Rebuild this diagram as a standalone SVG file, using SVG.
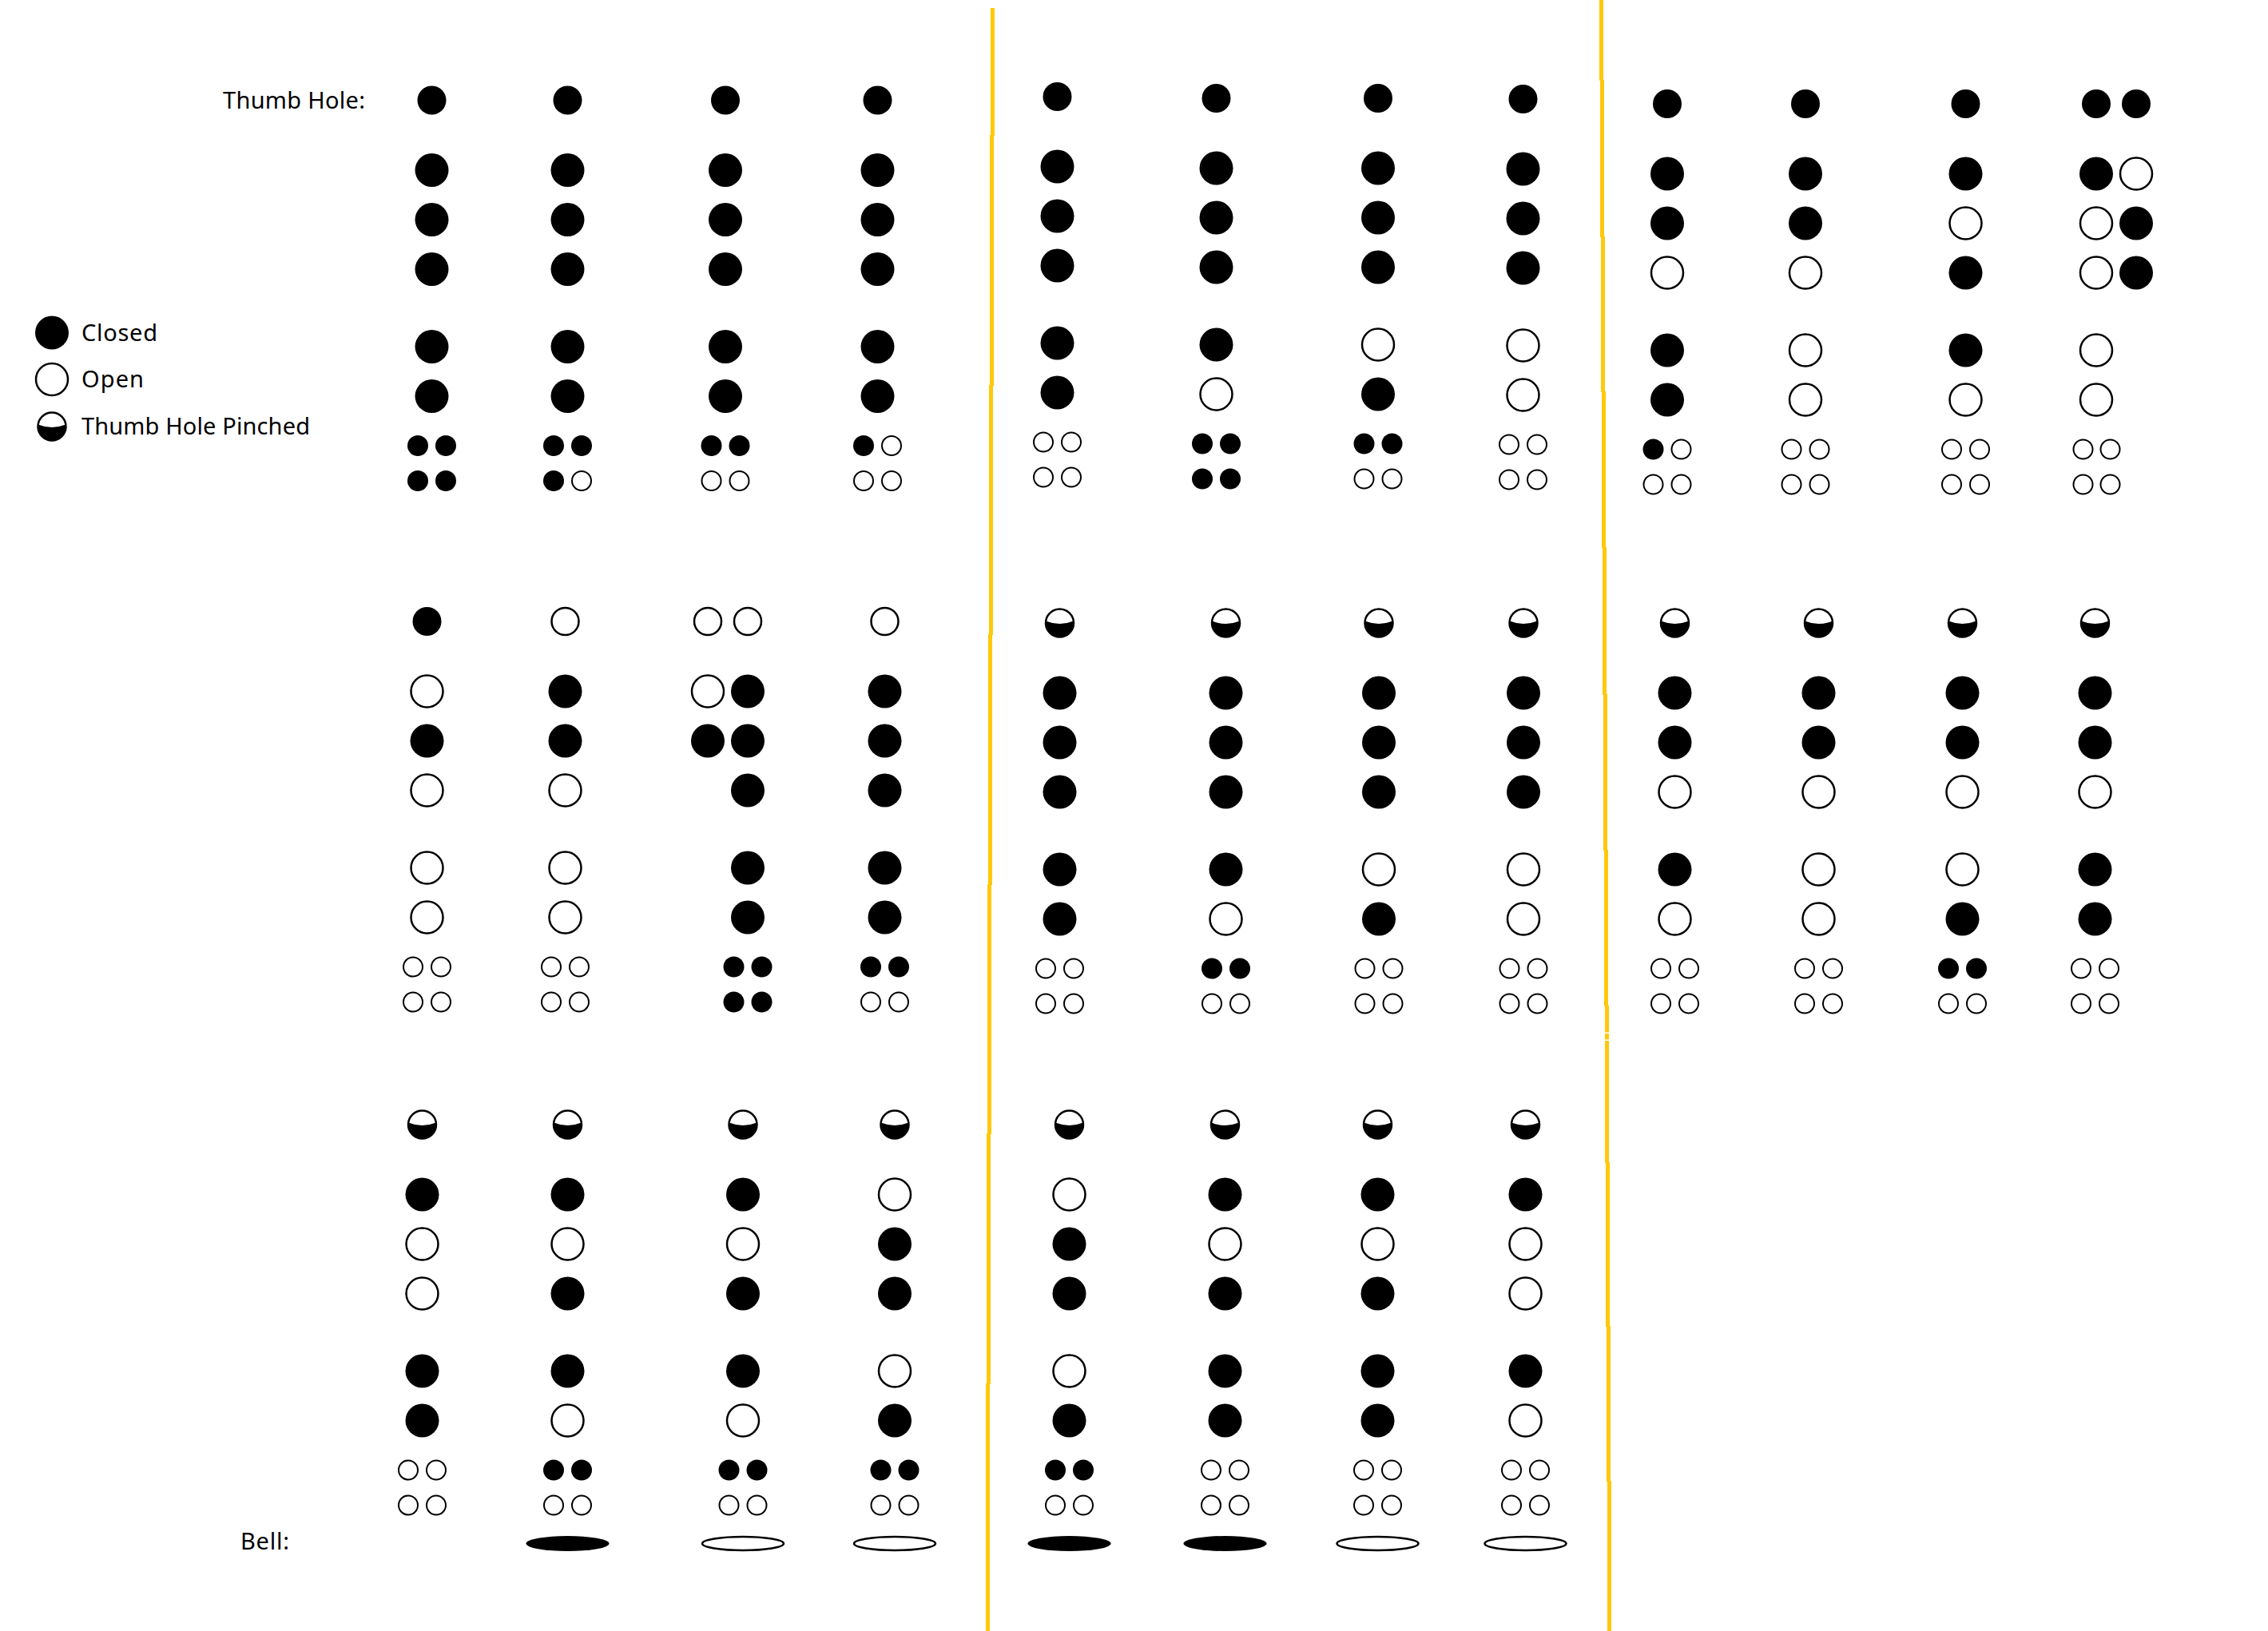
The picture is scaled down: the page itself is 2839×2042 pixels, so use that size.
<svg xmlns="http://www.w3.org/2000/svg" xmlns:xlink="http://www.w3.org/1999/xlink" width="2839" height="2042" viewBox="0 0 2839 2042">
<style>
.k{fill:#000}
.w{fill:#fff;stroke:#000;stroke-width:2.5}
.ws{fill:#fff;stroke:#000;stroke-width:2}
.y{fill:#FFC80A}
.t{font-family:"Noto Sans","Lato",sans-serif;font-size:29px;fill:#000}
</style>
<defs>
<circle id="C" r="21" class="k"/>
<circle id="O" r="20" class="w"/>
<circle id="TC" r="18" class="k"/>
<circle id="TO" r="17" class="w"/>
<g id="P"><circle r="17.5" class="w"/><path d="M-17.3 -2.5 Q0 4.5 17.3 -2.5 A17.5 17.5 0 1 1 -17.3 -2.5Z" class="k"/></g>
<circle id="SC" r="13" class="k"/>
<circle id="SO" r="12" class="ws"/>
<ellipse id="BC" rx="52" ry="9.5" class="k"/>
<ellipse id="BO" rx="51" ry="8.5" class="w"/>
</defs>
<rect width="2839" height="2042" fill="#fff"/>

<g id="dividers">
<rect class="y" x="1240" y="10" width="5" height="160"/>
<rect class="y" x="1239" y="169" width="5" height="314"/>
<rect class="y" x="1238" y="482" width="5" height="313"/>
<rect class="y" x="1237" y="794" width="5" height="314"/>
<rect class="y" x="1236" y="1107" width="5" height="313"/>
<rect class="y" x="1235" y="1419" width="5" height="314"/>
<rect class="y" x="1234" y="1732" width="5" height="310"/>
<rect class="y" x="2002" y="0" width="5" height="101"/>
<rect class="y" x="2003" y="100" width="5" height="197"/>
<rect class="y" x="2004" y="296" width="5" height="195"/>
<rect class="y" x="2005" y="490" width="5" height="196"/>
<rect class="y" x="2006" y="685" width="5" height="185"/>
<rect class="y" x="2007" y="869" width="5" height="196"/>
<rect class="y" x="2008" y="1064" width="5" height="196"/>
<rect class="y" x="2009" y="1259" width="5" height="197"/>
<rect x="2008" y="1292.5" width="7" height="1.5" fill="#fff"/>
<rect x="2008" y="1301.5" width="7" height="1.5" fill="#fff"/>
<rect class="y" x="2010" y="1455" width="5" height="206"/>
<rect class="y" x="2011" y="1660" width="5" height="195"/>
<rect class="y" x="2012" y="1854" width="5" height="188"/>
</g>

<g id="legend">
<use href="#C" x="65" y="416.5"/>
<text class="t" x="102" y="427" textLength="95">Closed</text>
<use href="#O" x="65" y="475"/>
<text class="t" x="102" y="485" textLength="78">Open</text>
<use href="#P" x="65" y="534"/>
<text class="t" x="102" y="544" textLength="286">Thumb Hole Pinched</text>
</g>
<g id="labels">
<text class="t" x="279" y="136" textLength="178">Thumb Hole:</text>
<text class="t" x="301" y="1940" textLength="61">Bell:</text>
</g>

<!-- Section 1 -->
<g id="s1c1" transform="translate(540.5,125.5)">
<use href="#TC"/><use href="#C" y="87.5"/><use href="#C" y="149.5"/><use href="#C" y="211.5"/>
<use href="#C" y="308.5"/><use href="#C" y="370.5"/>
<use href="#SC" x="-17.5" y="432.5"/><use href="#SC" x="17.5" y="432.5"/>
<use href="#SC" x="-17.5" y="476.5"/><use href="#SC" x="17.5" y="476.5"/>
</g>
<g id="s1c2" transform="translate(710.5,125.5)">
<use href="#TC"/><use href="#C" y="87.5"/><use href="#C" y="149.5"/><use href="#C" y="211.5"/>
<use href="#C" y="308.5"/><use href="#C" y="370.5"/>
<use href="#SC" x="-17.5" y="432.5"/><use href="#SC" x="17.5" y="432.5"/>
<use href="#SC" x="-17.5" y="476.5"/><use href="#SO" x="17.5" y="476.5"/>
</g>
<g id="s1c3" transform="translate(908,125.5)">
<use href="#TC"/><use href="#C" y="87.5"/><use href="#C" y="149.5"/><use href="#C" y="211.5"/>
<use href="#C" y="308.5"/><use href="#C" y="370.5"/>
<use href="#SC" x="-17.5" y="432.5"/><use href="#SC" x="17.5" y="432.5"/>
<use href="#SO" x="-17.5" y="476.5"/><use href="#SO" x="17.5" y="476.5"/>
</g>
<g id="s1c4" transform="translate(1098.5,125.5)">
<use href="#TC"/><use href="#C" y="87.5"/><use href="#C" y="149.5"/><use href="#C" y="211.5"/>
<use href="#C" y="308.5"/><use href="#C" y="370.5"/>
<use href="#SC" x="-17.5" y="432.5"/><use href="#SO" x="17.5" y="432.5"/>
<use href="#SO" x="-17.5" y="476.5"/><use href="#SO" x="17.5" y="476.5"/>
</g>
<g id="s1c5" transform="translate(1323.5,121)">
<use href="#TC"/><use href="#C" y="87.5"/><use href="#C" y="149.5"/><use href="#C" y="211.5"/>
<use href="#C" y="308.5"/><use href="#C" y="370.5"/>
<use href="#SO" x="-17.5" y="432.5"/><use href="#SO" x="17.5" y="432.5"/>
<use href="#SO" x="-17.5" y="476.5"/><use href="#SO" x="17.5" y="476.5"/>
</g>
<g id="s1c6" transform="translate(1522.5,123)">
<use href="#TC"/><use href="#C" y="87.5"/><use href="#C" y="149.5"/><use href="#C" y="211.5"/>
<use href="#C" y="308.5"/><use href="#O" y="370.5"/>
<use href="#SC" x="-17.5" y="432.5"/><use href="#SC" x="17.5" y="432.5"/>
<use href="#SC" x="-17.5" y="476.5"/><use href="#SC" x="17.5" y="476.5"/>
</g>
<g id="s1c7" transform="translate(1725,123)">
<use href="#TC"/><use href="#C" y="87.5"/><use href="#C" y="149.5"/><use href="#C" y="211.5"/>
<use href="#O" y="308.5"/><use href="#C" y="370.5"/>
<use href="#SC" x="-17.5" y="432.5"/><use href="#SC" x="17.5" y="432.5"/>
<use href="#SO" x="-17.5" y="476.5"/><use href="#SO" x="17.5" y="476.5"/>
</g>
<g id="s1c8" transform="translate(1906.5,124)">
<use href="#TC"/><use href="#C" y="87.5"/><use href="#C" y="149.5"/><use href="#C" y="211.5"/>
<use href="#O" y="308.5"/><use href="#O" y="370.5"/>
<use href="#SO" x="-17.5" y="432.5"/><use href="#SO" x="17.5" y="432.5"/>
<use href="#SO" x="-17.5" y="476.5"/><use href="#SO" x="17.5" y="476.5"/>
</g>
<g id="s1c9" transform="translate(2087,130)">
<use href="#TC"/><use href="#C" y="87.5"/><use href="#C" y="149.5"/><use href="#O" y="211.5"/>
<use href="#C" y="308.5"/><use href="#C" y="370.5"/>
<use href="#SC" x="-17.5" y="432.5"/><use href="#SO" x="17.5" y="432.5"/>
<use href="#SO" x="-17.5" y="476.5"/><use href="#SO" x="17.5" y="476.5"/>
</g>
<g id="s1c10" transform="translate(2260,130)">
<use href="#TC"/><use href="#C" y="87.5"/><use href="#C" y="149.5"/><use href="#O" y="211.5"/>
<use href="#O" y="308.5"/><use href="#O" y="370.5"/>
<use href="#SO" x="-17.5" y="432.5"/><use href="#SO" x="17.5" y="432.5"/>
<use href="#SO" x="-17.5" y="476.5"/><use href="#SO" x="17.5" y="476.5"/>
</g>
<g id="s1c11" transform="translate(2460.5,130)">
<use href="#TC"/><use href="#C" y="87.5"/><use href="#O" y="149.5"/><use href="#C" y="211.5"/>
<use href="#C" y="308.5"/><use href="#O" y="370.5"/>
<use href="#SO" x="-17.5" y="432.5"/><use href="#SO" x="17.5" y="432.5"/>
<use href="#SO" x="-17.5" y="476.5"/><use href="#SO" x="17.5" y="476.5"/>
</g>
<g id="s1c12" transform="translate(2624,130)">
<use href="#TC"/><use href="#TC" x="50"/>
<use href="#C" y="87.5"/><use href="#O" x="50" y="87.5"/>
<use href="#O" y="149.5"/><use href="#C" x="50" y="149.5"/>
<use href="#O" y="211.5"/><use href="#C" x="50" y="211.5"/>
<use href="#O" y="308.5"/><use href="#O" y="370.5"/>
<use href="#SO" x="-16.5" y="432.5"/><use href="#SO" x="17.5" y="432.5"/>
<use href="#SO" x="-16.5" y="476.5"/><use href="#SO" x="17.5" y="476.5"/>
</g>

<!-- Section 2 -->
<g id="s2c1" transform="translate(534.5,778)">
<use href="#TC"/><use href="#O" y="87.5"/><use href="#C" y="149.5"/><use href="#O" y="211.5"/>
<use href="#O" y="308.5"/><use href="#O" y="370.5"/>
<use href="#SO" x="-17.5" y="432.5"/><use href="#SO" x="17.5" y="432.5"/>
<use href="#SO" x="-17.5" y="476.5"/><use href="#SO" x="17.5" y="476.5"/>
</g>
<g id="s2c2" transform="translate(707.5,778)">
<use href="#TO"/><use href="#C" y="87.5"/><use href="#C" y="149.5"/><use href="#O" y="211.5"/>
<use href="#O" y="308.5"/><use href="#O" y="370.5"/>
<use href="#SO" x="-17.5" y="432.5"/><use href="#SO" x="17.5" y="432.5"/>
<use href="#SO" x="-17.5" y="476.5"/><use href="#SO" x="17.5" y="476.5"/>
</g>
<g id="s2c3" transform="translate(936,778)">
<use href="#TO" x="-50"/><use href="#TO"/>
<use href="#O" x="-50" y="87.5"/><use href="#C" y="87.5"/>
<use href="#C" x="-50" y="149.5"/><use href="#C" y="149.5"/>
<use href="#C" y="211.5"/>
<use href="#C" y="308.5"/><use href="#C" y="370.5"/>
<use href="#SC" x="-17.5" y="432.5"/><use href="#SC" x="17.5" y="432.5"/>
<use href="#SC" x="-17.5" y="476.5"/><use href="#SC" x="17.5" y="476.5"/>
</g>
<g id="s2c4" transform="translate(1107.5,778)">
<use href="#TO"/><use href="#C" y="87.5"/><use href="#C" y="149.5"/><use href="#C" y="211.5"/>
<use href="#C" y="308.5"/><use href="#C" y="370.5"/>
<use href="#SC" x="-17.5" y="432.5"/><use href="#SC" x="17.5" y="432.5"/>
<use href="#SO" x="-17.5" y="476.5"/><use href="#SO" x="17.5" y="476.5"/>
</g>
<g id="s2c5" transform="translate(1326.5,780)">
<use href="#P"/><use href="#C" y="87.5"/><use href="#C" y="149.5"/><use href="#C" y="211.5"/>
<use href="#C" y="308.5"/><use href="#C" y="370.5"/>
<use href="#SO" x="-17.5" y="432.5"/><use href="#SO" x="17.5" y="432.5"/>
<use href="#SO" x="-17.5" y="476.5"/><use href="#SO" x="17.5" y="476.5"/>
</g>
<g id="s2c6" transform="translate(1534.5,780)">
<use href="#P"/><use href="#C" y="87.5"/><use href="#C" y="149.5"/><use href="#C" y="211.5"/>
<use href="#C" y="308.5"/><use href="#O" y="370.5"/>
<use href="#SC" x="-17.5" y="432.5"/><use href="#SC" x="17.5" y="432.5"/>
<use href="#SO" x="-17.5" y="476.5"/><use href="#SO" x="17.5" y="476.5"/>
</g>
<g id="s2c7" transform="translate(1726,780)">
<use href="#P"/><use href="#C" y="87.5"/><use href="#C" y="149.5"/><use href="#C" y="211.5"/>
<use href="#O" y="308.5"/><use href="#C" y="370.5"/>
<use href="#SO" x="-17.5" y="432.5"/><use href="#SO" x="17.5" y="432.5"/>
<use href="#SO" x="-17.5" y="476.5"/><use href="#SO" x="17.5" y="476.5"/>
</g>
<g id="s2c8" transform="translate(1907,780)">
<use href="#P"/><use href="#C" y="87.5"/><use href="#C" y="149.5"/><use href="#C" y="211.5"/>
<use href="#O" y="308.5"/><use href="#O" y="370.5"/>
<use href="#SO" x="-17.5" y="432.5"/><use href="#SO" x="17.5" y="432.5"/>
<use href="#SO" x="-17.5" y="476.5"/><use href="#SO" x="17.5" y="476.5"/>
</g>
<g id="s2c9" transform="translate(2096.5,780)">
<use href="#P"/><use href="#C" y="87.5"/><use href="#C" y="149.5"/><use href="#O" y="211.5"/>
<use href="#C" y="308.5"/><use href="#O" y="370.5"/>
<use href="#SO" x="-17.5" y="432.5"/><use href="#SO" x="17.5" y="432.5"/>
<use href="#SO" x="-17.5" y="476.5"/><use href="#SO" x="17.5" y="476.5"/>
</g>
<g id="s2c10" transform="translate(2276.5,780)">
<use href="#P"/><use href="#C" y="87.5"/><use href="#C" y="149.5"/><use href="#O" y="211.5"/>
<use href="#O" y="308.5"/><use href="#O" y="370.5"/>
<use href="#SO" x="-17.5" y="432.5"/><use href="#SO" x="17.5" y="432.5"/>
<use href="#SO" x="-17.5" y="476.5"/><use href="#SO" x="17.5" y="476.5"/>
</g>
<g id="s2c11" transform="translate(2456.5,780)">
<use href="#P"/><use href="#C" y="87.5"/><use href="#C" y="149.5"/><use href="#O" y="211.5"/>
<use href="#O" y="308.5"/><use href="#C" y="370.5"/>
<use href="#SC" x="-17.5" y="432.5"/><use href="#SC" x="17.5" y="432.5"/>
<use href="#SO" x="-17.5" y="476.5"/><use href="#SO" x="17.5" y="476.5"/>
</g>
<g id="s2c12" transform="translate(2622.5,780)">
<use href="#P"/><use href="#C" y="87.5"/><use href="#C" y="149.5"/><use href="#O" y="211.5"/>
<use href="#C" y="308.5"/><use href="#C" y="370.5"/>
<use href="#SO" x="-17.5" y="432.5"/><use href="#SO" x="17.5" y="432.5"/>
<use href="#SO" x="-17.5" y="476.5"/><use href="#SO" x="17.5" y="476.5"/>
</g>

<!-- Section 3 -->
<g id="s3c1" transform="translate(528.5,1408)">
<use href="#P"/><use href="#C" y="87.5"/><use href="#O" y="149.5"/><use href="#O" y="211.5"/>
<use href="#C" y="308.5"/><use href="#C" y="370.5"/>
<use href="#SO" x="-17.5" y="432.5"/><use href="#SO" x="17.5" y="432.5"/>
<use href="#SO" x="-17.5" y="476.5"/><use href="#SO" x="17.5" y="476.5"/>
</g>
<g id="s3c2" transform="translate(710.5,1408)">
<use href="#P"/><use href="#C" y="87.5"/><use href="#O" y="149.5"/><use href="#C" y="211.5"/>
<use href="#C" y="308.5"/><use href="#O" y="370.5"/>
<use href="#SC" x="-17.5" y="432.5"/><use href="#SC" x="17.5" y="432.5"/>
<use href="#SO" x="-17.5" y="476.5"/><use href="#SO" x="17.5" y="476.5"/>
<use href="#BC" y="524.5"/>
</g>
<g id="s3c3" transform="translate(930,1408)">
<use href="#P"/><use href="#C" y="87.5"/><use href="#O" y="149.5"/><use href="#C" y="211.5"/>
<use href="#C" y="308.5"/><use href="#O" y="370.5"/>
<use href="#SC" x="-17.5" y="432.5"/><use href="#SC" x="17.5" y="432.5"/>
<use href="#SO" x="-17.5" y="476.5"/><use href="#SO" x="17.5" y="476.5"/>
<use href="#BO" y="524.5"/>
</g>
<g id="s3c4" transform="translate(1120,1408)">
<use href="#P"/><use href="#O" y="87.5"/><use href="#C" y="149.5"/><use href="#C" y="211.5"/>
<use href="#O" y="308.5"/><use href="#C" y="370.5"/>
<use href="#SC" x="-17.5" y="432.5"/><use href="#SC" x="17.5" y="432.5"/>
<use href="#SO" x="-17.5" y="476.5"/><use href="#SO" x="17.5" y="476.5"/>
<use href="#BO" y="524.5"/>
</g>
<g id="s3c5" transform="translate(1338.5,1408)">
<use href="#P"/><use href="#O" y="87.5"/><use href="#C" y="149.5"/><use href="#C" y="211.5"/>
<use href="#O" y="308.5"/><use href="#C" y="370.5"/>
<use href="#SC" x="-17.5" y="432.5"/><use href="#SC" x="17.5" y="432.5"/>
<use href="#SO" x="-17.5" y="476.5"/><use href="#SO" x="17.5" y="476.5"/>
<use href="#BC" y="524.5"/>
</g>
<g id="s3c6" transform="translate(1533.5,1408)">
<use href="#P"/><use href="#C" y="87.5"/><use href="#O" y="149.5"/><use href="#C" y="211.5"/>
<use href="#C" y="308.5"/><use href="#C" y="370.5"/>
<use href="#SO" x="-17.5" y="432.5"/><use href="#SO" x="17.5" y="432.5"/>
<use href="#SO" x="-17.5" y="476.5"/><use href="#SO" x="17.5" y="476.5"/>
<use href="#BC" y="524.5"/>
</g>
<g id="s3c7" transform="translate(1724.5,1408)">
<use href="#P"/><use href="#C" y="87.5"/><use href="#O" y="149.5"/><use href="#C" y="211.5"/>
<use href="#C" y="308.5"/><use href="#C" y="370.5"/>
<use href="#SO" x="-17.5" y="432.5"/><use href="#SO" x="17.5" y="432.5"/>
<use href="#SO" x="-17.5" y="476.5"/><use href="#SO" x="17.5" y="476.5"/>
<use href="#BO" y="524.5"/>
</g>
<g id="s3c8" transform="translate(1909.5,1408)">
<use href="#P"/><use href="#C" y="87.5"/><use href="#O" y="149.5"/><use href="#O" y="211.5"/>
<use href="#C" y="308.5"/><use href="#O" y="370.5"/>
<use href="#SO" x="-17.5" y="432.5"/><use href="#SO" x="17.5" y="432.5"/>
<use href="#SO" x="-17.5" y="476.5"/><use href="#SO" x="17.5" y="476.5"/>
<use href="#BO" y="524.5"/>
</g>
</svg>
